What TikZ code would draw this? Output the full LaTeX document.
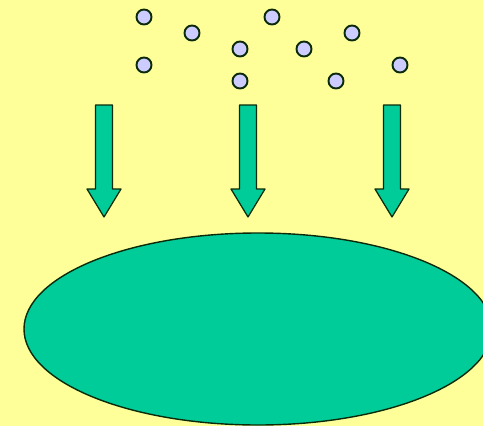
\documentclass[tikz,border=0pt]{standalone}
\usepackage{tikz}

\definecolor{bgyellow}{HTML}{FFFF99}
\definecolor{dotblue}{HTML}{CCCCFF}
\definecolor{seagreen}{HTML}{00CC99}
\definecolor{darkline}{HTML}{0A2A0A}

\begin{document}
\begin{tikzpicture}[line cap=round,line join=round,x=0.02cm,y=-0.02cm,
    dot/.style={circle,draw=darkline,fill=dotblue,line width=1.1pt,minimum size=0.3cm,inner sep=0pt},
    blockarrow/.style={draw=darkline,fill=seagreen,line width=0.7pt}]
					\useasboundingbox (0,0) rectangle (483,426);
					\clip (0,0) rectangle (483,426);
					\fill[bgyellow] (0,0) rectangle (483,426);
					% particles
					\node[dot] (p1) at (144,17) {};
					\node[dot] (p2) at (192,33) {};
					\node[dot] (p3) at (240,49) {};
					\node[dot] (p4) at (272,17) {};
					\node[dot] (p5) at (304,49) {};
					\node[dot] (p6) at (352,33) {};
					\node[dot] (p7) at (144,65) {};
					\node[dot] (p8) at (240,81) {};
					\node[dot] (p9) at (336,81) {};
					\node[dot] (p10) at (400,65) {};
					% arrows
					\foreach \cx in {104,248,392}{
						\draw[blockarrow] (\cx-8.5,105) -- (\cx+8.5,105) -- (\cx+8.5,189) -- (\cx+17,189)
							-- (\cx,217) -- (\cx-17,189) -- (\cx-8.5,189) -- cycle;
					}
					% surface
					\draw[darkline,fill=seagreen,line width=0.8pt] (258,329) ellipse [x radius=234,y radius=96];
\end{tikzpicture}
\end{document}
